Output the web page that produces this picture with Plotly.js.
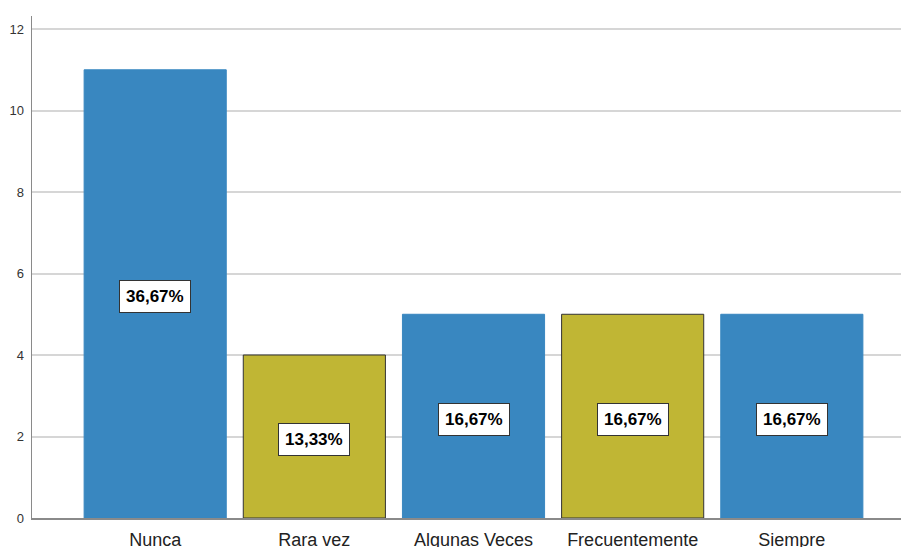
<!DOCTYPE html>
<html>
<head>
<meta charset="utf-8">
<script src="https://cdn.plot.ly/plotly-3.0.1.min.js"></script>
<style>
  html, body { margin: 0; padding: 0; background: #ffffff; }
  #chart { width: 901px; height: 547px; }
</style>
</head>
<body>
<div id="chart"></div>
<script>
// Response categories and their counts
const categories = ['Nunca', 'Rara vez', 'Algunas Veces', 'Frecuentemente', 'Siempre'];
const counts = [11, 4, 5, 5, 5];
const barColors = ['#3987c0', '#c0b634', '#3987c0', '#c0b634', '#3987c0'];
const barOutline = ['#3987c0', '#333333', '#3987c0', '#333333', '#3987c0'];
const yTicks = [0, 2, 4, 6, 8, 10, 12];

const total = counts.reduce((a, b) => a + b, 0);
const percentLabels = counts.map(v => (v / total * 100).toFixed(2).replace('.', ',') + '%');

const trace = {
  type: 'bar',
  x: categories,
  y: counts,
  marker: {
    color: barColors,
    line: { color: barOutline, width: 1 }
  },
  hoverinfo: 'skip'
};

// Percentage boxes centered on each bar
const annotations = categories.map((c, i) => ({
  x: c,
  y: counts[i] / 2,
  xref: 'x',
  yref: 'y',
  yshift: -3,
  text: '<b>' + percentLabels[i] + '</b>',
  showarrow: false,
  font: { family: '"Liberation Sans Narrow", "Arial Narrow", "Liberation Sans", Arial, sans-serif', size: 17, color: '#000000' },
  bgcolor: '#ffffff',
  bordercolor: '#333333',
  borderwidth: 1,
  borderpad: 6
}));

const layout = {
  width: 901,
  height: 547,
  margin: { l: 32, r: 0, t: 16, b: 29 },
  paper_bgcolor: '#ffffff',
  plot_bgcolor: '#ffffff',
  showlegend: false,
  bargap: 0.107,
  xaxis: {
    type: 'category',
    range: [-0.774, 4.686],
    showgrid: false,
    showline: true,
    linecolor: '#8a8a8a',
    linewidth: 1.5,
    ticks: '',
    ticklabelstandoff: 5,
    tickfont: { family: '"Liberation Sans", Arial, sans-serif', size: 18, color: '#222222' },
    fixedrange: true
  },
  yaxis: {
    range: [0, 12.32],
    tickvals: yTicks,
    ticktext: yTicks.map(String),
    showgrid: true,
    gridcolor: '#d6d6d6',
    gridwidth: 2,
    zeroline: false,
    showline: true,
    linecolor: '#8a8a8a',
    linewidth: 1.5,
    ticks: '',
    ticklabelstandoff: 4,
    tickfont: { family: '"Liberation Sans", Arial, sans-serif', size: 13, color: '#333333' },
    fixedrange: true
  },
  annotations: annotations
};

Plotly.newPlot('chart', [trace], layout, { displayModeBar: false, staticPlot: true });
</script>
</body>
</html>
